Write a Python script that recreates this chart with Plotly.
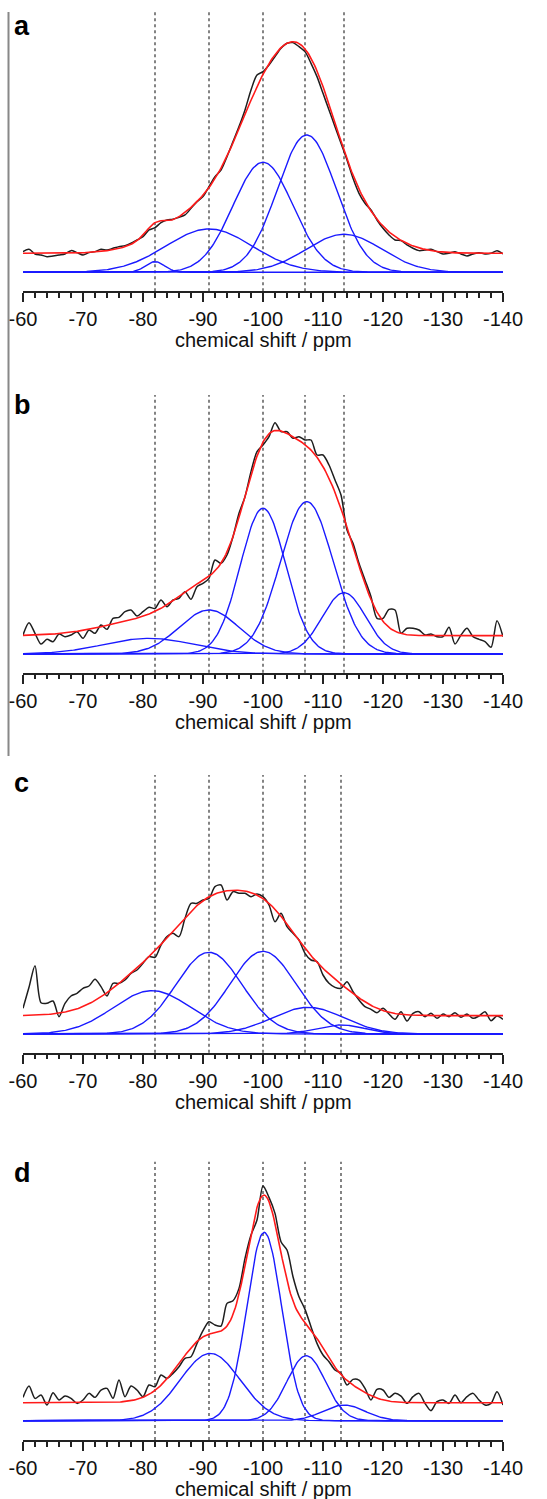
import numpy as np
import plotly.graph_objects as go

# ---------------- data ----------------
ppm = list(range(-60, -141, -1))  # 81 points, -60 ... -140

exp_a = [62, 69, 55, 52, 47, 49, 52, 55, 65, 59, 52, 59, 62, 69, 67, 72, 77, 80, 87, 97,
         107, 127, 134, 149, 157, 159, 165, 172, 192, 212, 227, 257, 287, 307, 347, 392, 437, 487, 547, 592,
         602, 622, 647, 672, 687, 689, 677, 662, 627, 587, 537, 487, 437, 387, 337, 282, 237, 207, 187, 157,
         132, 112, 97, 95, 82, 72, 65, 67, 69, 62, 55, 57, 62, 55, 49, 55, 59, 55, 57, 65, 55]
exp_b = [57, 94, 62, 30, 44, 37, 60, 52, 57, 67, 47, 72, 62, 87, 74, 107, 110, 127, 132, 114,
         127, 140, 137, 162, 142, 162, 167, 187, 164, 202, 212, 227, 282, 272, 297, 352, 422, 472, 547, 607,
         627, 652, 694, 667, 667, 647, 652, 642, 642, 597, 597, 567, 522, 477, 372, 332, 272, 222, 172, 107,
         107, 134, 132, 62, 77, 77, 72, 57, 60, 52, 52, 80, 30, 57, 77, 52, 44, 37, 20, 100, 52]
exp_c = [77, 140, 205, 94, 92, 99, 52, 92, 114, 122, 137, 144, 164, 142, 114, 152, 152, 162, 182, 192,
         212, 232, 230, 267, 292, 302, 292, 347, 392, 392, 402, 407, 442, 447, 402, 427, 422, 422, 412, 420,
         412, 387, 337, 362, 322, 302, 282, 242, 222, 217, 177, 152, 140, 137, 157, 127, 102, 82, 74, 64,
         77, 60, 44, 67, 39, 62, 67, 52, 62, 47, 60, 52, 64, 50, 60, 47, 54, 67, 40, 54, 44]
exp_d = [70, 104, 67, 77, 47, 84, 62, 74, 67, 52, 62, 82, 70, 92, 97, 67, 122, 72, 104, 92,
         72, 107, 102, 137, 127, 142, 162, 187, 192, 232, 270, 297, 287, 284, 352, 360, 397, 487, 557, 602,
         704, 670, 622, 537, 512, 432, 372, 334, 282, 232, 197, 177, 152, 142, 107, 124, 122, 97, 62, 94,
         92, 70, 82, 74, 52, 72, 82, 52, 30, 57, 62, 52, 77, 54, 72, 82, 62, 47, 52, 87, 47]

# fitted Gaussian components: centre (ppm), height, width (sigma, ppm); constant baseline of the fit
centres_a = [-82, -91, -100, -107.3, -113.5]
heights_a = [32, 130, 330, 412, 114]
widths_a = [1.6, 7.2, 5.0, 4.9, 6.3]
offset_a = 57

centres_b = [-81, -91, -100, -107.3, -113.5]
heights_b = [47, 132, 437, 457, 184]
widths_b = [7.5, 5.0, 3.8, 4.4, 3.6]
offset_b = 55

centres_c = [-81.5, -91, -100, -107.5, -113]
heights_c = [130, 245, 248, 80, 27]
widths_c = [6.5, 5.5, 5.5, 6.0, 4.0]
offset_c = 55

centres_d = [-91.2, -100.2, -107.2, -113.5]
heights_d = [202, 565, 195, 47]
widths_d = [5.0, 2.9, 3.2, 3.5]
offset_d = 54

ref_lines_ab = [-82, -91, -100, -107, -113.5]
ref_lines_cd = [-82, -91, -100, -107, -113]

panel_labels = ["a", "b", "c", "d"]
tick_vals = [-60, -70, -80, -90, -100, -110, -120, -130, -140]
tick_text = ["-60", "-70", "-80", "-90", "-100", "-110", "-120", "-130", "-140"]
minor_vals = list(range(-60, -141, -2))
x_title = "chemical shift / ppm"

# ---------------- layout geometry (pixels) ----------------
W, H = 547, 1499
L, R = 23, 44
tops = [12.3, 395, 775, 1161.7]
bottoms = [291.3, 672.7, 1052.7, 1440]
blue_base = [272.3, 654, 1034, 1420.7]
label_y = [26, 405, 783, 1173]

def py(px):
    return 1 - px / H

panels = [
    (exp_a, centres_a, heights_a, widths_a, offset_a, ref_lines_ab),
    (exp_b, centres_b, heights_b, widths_b, offset_b, ref_lines_ab),
    (exp_c, centres_c, heights_c, widths_c, offset_c, ref_lines_cd),
    (exp_d, centres_d, heights_d, widths_d, offset_d, ref_lines_cd),
]

xg = np.arange(-60, -140.001, -0.2)

fig = go.Figure()
FONT = "Liberation Sans, Arial, Helvetica, sans-serif"
shapes = []
annotations = []

for i, (expv, cs, hs, ws, off, refs) in enumerate(panels):
    n = i + 1
    xa = "x" if n == 1 else f"x{n}"
    ya = "y" if n == 1 else f"y{n}"
    total = np.full_like(xg, float(off))
    for c, h, w in zip(cs, hs, ws):
        comp = h * np.exp(-((xg - c) ** 2) / (2 * w * w))
        total += comp
        fig.add_trace(go.Scatter(x=xg, y=comp, mode="lines", xaxis=xa, yaxis=ya,
                                 line=dict(color="#1a1aff", width=1.4), showlegend=False, hoverinfo="skip"))
    fig.add_trace(go.Scatter(x=ppm, y=expv, mode="lines", xaxis=xa, yaxis=ya,
                             line=dict(color="#1e1e1e", width=1.5, shape="spline", smoothing=0.8),
                             showlegend=False))
    fig.add_trace(go.Scatter(x=xg, y=total, mode="lines", xaxis=xa, yaxis=ya,
                             line=dict(color="#ff1a1a", width=1.6), showlegend=False))

    dom = [py(bottoms[i]), py(tops[i])]
    yr = [-(bottoms[i] - blue_base[i]) * 3, (blue_base[i] - tops[i]) * 3]
    fig.layout[f"xaxis{'' if n == 1 else n}"] = dict(
        domain=[0, 1], anchor=ya, range=[-60, -140],
        tickmode="array", tickvals=tick_vals, ticktext=tick_text,
        ticks="outside", ticklen=9, tickwidth=1.5, tickcolor="#222",
        minor=dict(tickmode="array", tickvals=minor_vals, ticks="outside", ticklen=4.5,
                   tickwidth=1.5, tickcolor="#222"),
        showline=True, linewidth=2, linecolor="#222", mirror=False,
        showgrid=False, zeroline=False,
        tickfont=dict(family=FONT, size=20, color="#111"),
    )
    fig.layout[f"yaxis{'' if n == 1 else n}"] = dict(
        domain=dom, anchor=xa, range=yr, visible=False, showgrid=False, zeroline=False)

    for r in refs:
        shapes.append(dict(type="line", xref=xa, yref=f"{ya} domain", x0=r, x1=r, y0=0, y1=1,
                           line=dict(color="#333", width=1.2, dash="dot"), layer="below"))
    annotations.append(dict(text=x_title, xref="paper", yref="paper", x=0.5, y=py(bottoms[i] + 49),
                            xanchor="center", yanchor="middle", showarrow=False,
                            font=dict(family=FONT, size=20, color="#111")))
    annotations.append(dict(text=f"<b>{panel_labels[i]}</b>", xref="paper", yref="paper",
                            x=(12 - L) / (W - L - R), y=py(label_y[i]),
                            xanchor="left", yanchor="middle", showarrow=False,
                            font=dict(family=FONT, size=27, color="#000")))

shapes.append(dict(type="line", xref="paper", yref="paper",
                   x0=(8.5 - L) / (W - L - R), x1=(8.5 - L) / (W - L - R),
                   y0=py(12), y1=py(756), line=dict(color="#888", width=2)))

fig.update_layout(width=W, height=H, margin=dict(l=L, r=R, t=0, b=0, autoexpand=False),
                  paper_bgcolor="white", plot_bgcolor="white",
                  shapes=shapes, annotations=annotations, showlegend=False)

fig.write_html("out.html")
